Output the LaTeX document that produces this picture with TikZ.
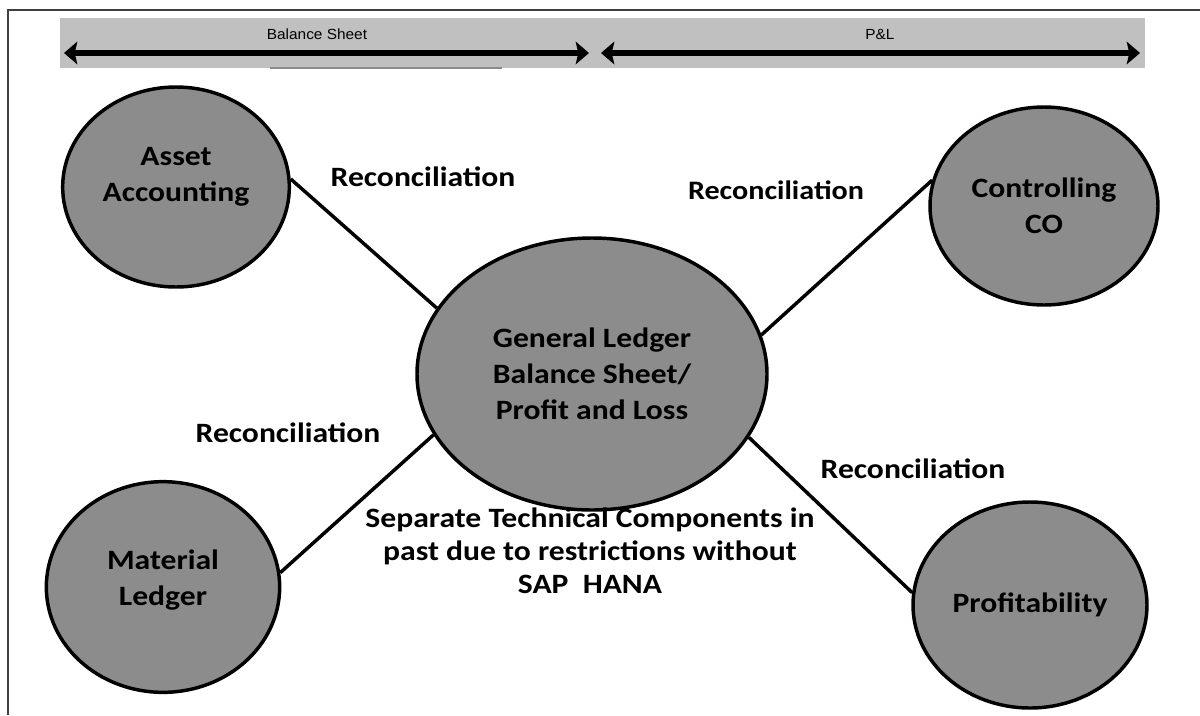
\documentclass[tikz,border=0pt]{standalone}
\usepackage{xcolor}
\usepackage{fontspec}
\setmainfont{Carlito}[FakeStretch=1.13]
\newfontfamily\barfont{Liberation Sans}[FakeStretch=1.05]
\usepackage{tikz}
\usetikzlibrary{shapes.geometric,arrows.meta}

\definecolor{bargray}{RGB}{192,192,192}
\definecolor{bubblegray}{RGB}{140,140,140}

\tikzset{
  bubble/.style={ellipse, draw=black, line width=2.6pt, fill=bubblegray, inner sep=0pt, align=center, font=\fontsize{21}{27}\selectfont\bfseries},
  recon/.style={inner sep=0pt, font=\fontsize{21}{25}\selectfont\bfseries},
  link/.style={line width=2.6pt},
  spanarrow/.style={line width=4pt, {Stealth[length=10pt,width=17pt,inset=2pt]}-{Stealth[length=10pt,width=17pt,inset=2pt]}},
}

\begin{document}
\begin{tikzpicture}[x=0.75pt,y=0.75pt,yscale=-1,xscale=1]
\useasboundingbox (0,0) rectangle (1200,715);

%Frame
\draw [color=black!75, line width=1pt] (8,715) -- (8,10) -- (1200,10) ;

%Header bar
\fill [bargray] (60,18) rectangle (1145,68) ;
\draw [color=black!45, line width=1pt] (270,68) -- (502,68) ;
\coordinate (bsL) at (64,53) ;
\coordinate (bsR) at (589,53) ;
\coordinate (plL) at (601,53) ;
\coordinate (plR) at (1140,53) ;
\draw [spanarrow] (bsL) -- (bsR) ;
\draw [spanarrow] (plL) -- (plR) ;
% Text Node
\node (bstext) at (317,34) [inner sep=0pt, font=\barfont\fontsize{11}{13}\selectfont] {Balance Sheet};
% Text Node
\node (pltext) at (880,34) [inner sep=0pt, font=\barfont\fontsize{11}{13}\selectfont] {P\&L};

%Ellipses
\node (asset) at (176,187) [bubble, minimum width=170pt, minimum height=150pt, text depth=19pt] {Asset\\Accounting};
\node (ctrl) at (1044,206) [bubble, minimum width=171pt, minimum height=148.5pt] {Controlling\\CO};
\node (gl) at (592,374) [bubble, minimum width=262.5pt, minimum height=204pt] {General Ledger\\Balance Sheet/\\Profit and Loss};
\node (matl) at (163,587) [bubble, minimum width=175pt, minimum height=158pt, text depth=14pt] {Material\\Ledger};
\node (profit) at (1030,605) [bubble, minimum width=175.5pt, minimum height=154.5pt] {Profitability};

%Straight Lines
\draw [link] (asset.4) -- (gl.157) ;
\draw [link] (ctrl.167) -- (gl.13) ;
\draw [link] (matl.7) -- (gl.201) ;
\draw [link] (profit.174) -- (gl.338) ;

% Text Node
\node (recA) at (423,177) [recon] {Reconciliation};
% Text Node
\node (recC) at (776,190) [recon, font=\fontsize{20}{24}\selectfont\bfseries] {Reconciliation};
% Text Node
\node (recM) at (288,433) [recon] {Reconciliation};
% Text Node
\node (recP) at (913,469) [recon] {Reconciliation};
% Text Node
\node (note) at (590,551) [align=center, inner sep=0pt, font=\fontsize{21}{24.75}\selectfont\bfseries] {Separate Technical Components in\\past due to restrictions without\\SAP\ \ HANA};

\end{tikzpicture}
\end{document}
